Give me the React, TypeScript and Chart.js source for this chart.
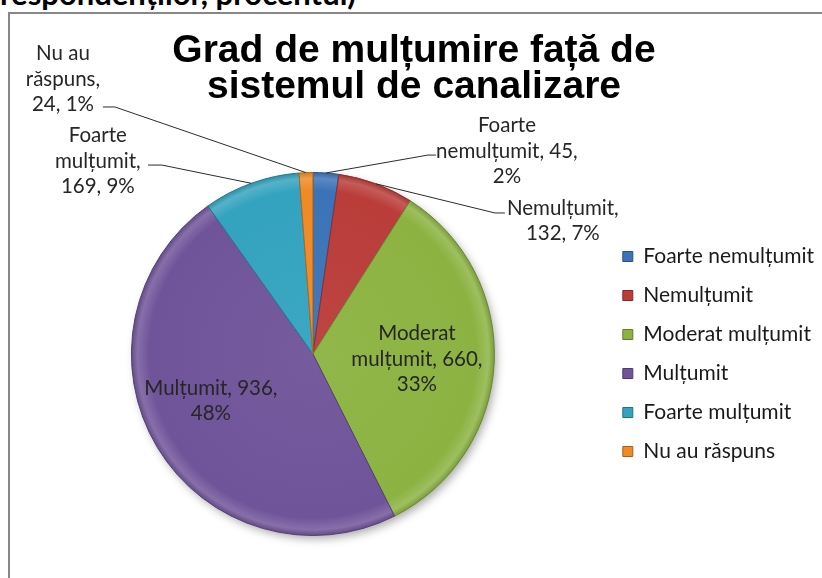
import React, { useEffect, useRef } from 'react';
import { Chart, registerables } from 'chart.js';

Chart.register(...registerables);

// ---- data ----
const CATEGORIES = [
  'Foarte nemulțumit',
  'Nemulțumit',
  'Moderat mulțumit',
  'Mulțumit',
  'Foarte mulțumit',
  'Nu au răspuns',
];
const VALUES = [45, 132, 660, 936, 169, 24];
const COLORS = ['#3c73b8', '#ba3d3a', '#8cb342', '#70549a', '#34a3bf', '#ef8a26'];
const TITLE_LINES = ['Grad de mulțumire față de', 'sistemul de canalizare'];
const CAPTION = 'respondenților, procentul)';
// words per line for each data label ("Categorie, valoare, procent%")
const LABEL_WORDS_PER_LINE = [[1, 2, 1], [1, 2], [1, 2, 1], [2, 1], [1, 1, 2], [2, 1, 2]];

// ---- label layout (in units of the pie radius, relative to pie centre) ----
// tx,ty: centre of text block; leader: elbow (ex,ey) then horizontal to hx
const LABEL_LAYOUT = [
  { tx: 1.069, ty: -1.118, leader: true, ex: 0.634, ey: -1.096, hx: 0.678 },
  { tx: 1.377, ty: -0.733, leader: true, ex: 1.003, ey: -0.777, hx: 1.058 },
  { tx: 0.573, ty: 0.028, leader: false, ex: 0, ey: 0, hx: 0 },
  { tx: -0.562, ty: 0.259, leader: false, ex: 0, ey: 0, hx: 0 },
  { tx: -1.185, ty: -1.063, leader: true, ex: -0.832, ey: -1.041, hx: -0.909 },
  { tx: -1.377, ty: -1.515, leader: true, ex: -1.091, ey: -1.361, hx: -1.157 },
];
const LABEL_FONT = '20.5px Lato, "Open Sans", sans-serif';
const LABEL_LINE_H = 25.5;

function roundedPercents(vals: number[]): number[] {
  const total = vals.reduce((a, b) => a + b, 0);
  const raw = vals.map((v) => (v * 100) / total);
  const fl = raw.map((r) => Math.floor(r));
  const rem = 100 - fl.reduce((a, b) => a + b, 0);
  const order = raw.map((r, i) => [r - fl[i], i]).sort((a, b) => b[0] - a[0]);
  for (let k = 0; k < rem; k++) fl[order[k][1]] += 1;
  return fl;
}

const PERCENTS = roundedPercents(VALUES);
const LABEL_LINES: string[][] = CATEGORIES.map((c, i) => {
  const words = `${c}, ${VALUES[i]}, ${PERCENTS[i]}%`.split(' ');
  const out: string[] = [];
  let p = 0;
  for (const n of LABEL_WORDS_PER_LINE[i]) {
    out.push(words.slice(p, p + n).join(' '));
    p += n;
  }
  return out;
});

function hexToRgb(h: string) {
  const n = parseInt(h.slice(1), 16);
  return [(n >> 16) & 255, (n >> 8) & 255, n & 255];
}
function mix(h: string, target: number, amt: number) {
  const [r, g, b] = hexToRgb(h);
  const f = (v: number) => Math.round(v + (target - v) * amt);
  return `rgb(${f(r)},${f(g)},${f(b)})`;
}
const lighten = (h: string, a: number) => mix(h, 255, a);
const darken = (h: string, a: number) => mix(h, 0, a);

function sliceFill(c: any) {
  const i = c.dataIndex;
  if (i === undefined) return COLORS[0];
  const base = COLORS[i];
  const chart = c.chart;
  const area = chart.chartArea;
  if (!area) return base;
  const cx = (area.left + area.right) / 2;
  const cy = (area.top + area.bottom) / 2;
  const r = Math.min(area.right - area.left, area.bottom - area.top) / 2;
  const g = chart.ctx.createRadialGradient(cx, cy, 0, cx, cy, r);
  g.addColorStop(0, lighten(base, 0.04));
  g.addColorStop(0.9, base);
  g.addColorStop(0.965, lighten(base, 0.16));
  g.addColorStop(1, darken(base, 0.14));
  return g;
}

const shadowPlugin = {
  id: 'pieShadow',
  beforeDatasetsDraw(chart: any) {
    const meta = chart.getDatasetMeta(0);
    const arc = meta.data[0];
    if (!arc) return;
    const { x, y, outerRadius } = arc.getProps(['x', 'y', 'outerRadius'], true);
    const ctx = chart.ctx;
    ctx.save();
    ctx.shadowColor = 'rgba(0,0,0,0.35)';
    ctx.shadowBlur = 10;
    ctx.shadowOffsetX = 3;
    ctx.shadowOffsetY = 4;
    ctx.beginPath();
    ctx.arc(x, y, outerRadius - 1, 0, Math.PI * 2);
    ctx.fillStyle = '#ffffff';
    ctx.fill();
    ctx.restore();
  },
};

const labelsPlugin = {
  id: 'pieLabels',
  afterDatasetsDraw(chart: any) {
    const meta = chart.getDatasetMeta(0);
    const ctx = chart.ctx;
    ctx.save();
    ctx.font = LABEL_FONT;
    ctx.fillStyle = '#262626';
    ctx.textAlign = 'center';
    ctx.textBaseline = 'middle';
    meta.data.forEach((arc: any, i: number) => {
      const { x, y, startAngle, endAngle, outerRadius } = arc.getProps(
        ['x', 'y', 'startAngle', 'endAngle', 'outerRadius'],
        true
      );
      const R = outerRadius;
      const mid = (startAngle + endAngle) / 2;
      const L = LABEL_LAYOUT[i];
      if (L.leader) {
        ctx.beginPath();
        ctx.moveTo(x + Math.cos(mid) * R, y + Math.sin(mid) * R);
        ctx.lineTo(x + L.ex * R, y + L.ey * R);
        ctx.lineTo(x + L.hx * R, y + L.ey * R);
        ctx.strokeStyle = '#2b2b2b';
        ctx.lineWidth = 1;
        ctx.stroke();
      }
      const lines = LABEL_LINES[i];
      const cx = x + L.tx * R;
      const cy = y + L.ty * R;
      lines.forEach((t, k) => {
        ctx.fillText(t, cx, cy + (k - (lines.length - 1) / 2) * LABEL_LINE_H);
      });
    });
    ctx.restore();
  },
};

export default function App() {
  const ref = useRef<HTMLCanvasElement | null>(null);

  useEffect(() => {
    if (!ref.current) return;
    const defaultGen = (Chart as any).overrides.doughnut.plugins.legend.labels.generateLabels;
    const chart = new Chart(ref.current, {
      type: 'pie',
      data: {
        labels: CATEGORIES,
        datasets: [
          {
            data: VALUES,
            backgroundColor: sliceFill as any,
            borderColor: COLORS.map((c) => darken(c, 0.25)),
            borderWidth: 1,
          },
        ],
      },
      options: {
        responsive: false,
        animation: false,
        events: [],
        layout: { padding: { left: 21, right: 26, top: 172, bottom: 42 } },
        plugins: {
          title: { display: false },
          legend: {
            position: 'right',
            fullSize: false,
            labels: {
              boxWidth: 10,
              boxHeight: 10,
              padding: 18,
              color: '#1a1a1a',
              font: { family: 'Lato, "Open Sans", sans-serif', size: 21 },
              generateLabels: (ch: any) =>
                defaultGen(ch).map((l: any, i: number) => ({
                  ...l,
                  fillStyle: COLORS[i],
                  strokeStyle: darken(COLORS[i], 0.3),
                  lineWidth: 1,
                })),
            },
          },
          tooltip: { enabled: false },
        },
      } as any,
      plugins: [shadowPlugin, labelsPlugin],
    });
    return () => chart.destroy();
  }, []);

  return (
    <div
      style={{
        position: 'absolute',
        left: 0,
        top: 0,
        width: 822,
        height: 578,
        overflow: 'hidden',
        background: '#ffffff',
      }}
    >
      <div
        style={{
          position: 'absolute',
          left: 0,
          top: -22,
          fontFamily: 'Lato, "Open Sans", sans-serif',
          fontWeight: 'bold',
          fontSize: 31,
          lineHeight: '31px',
          whiteSpace: 'nowrap',
          color: '#000',
        }}
      >
        {CAPTION}
      </div>
      <div
        style={{
          position: 'absolute',
          left: 8,
          top: 12,
          width: 900,
          height: 700,
          border: '2px solid #878787',
          boxSizing: 'border-box',
        }}
      />
      <canvas
        ref={ref}
        width={850}
        height={578}
        style={{ position: 'absolute', left: 0, top: 0, width: 850, height: 578 }}
      />
      <div
        style={{
          position: 'absolute',
          left: 0,
          top: 31,
          width: 828,
          textAlign: 'center',
          fontFamily: '"Liberation Sans", Arial, sans-serif',
          fontWeight: 'bold',
          fontSize: 39,
          lineHeight: '36px',
          color: '#000',
          whiteSpace: 'nowrap',
        }}
      >
        {TITLE_LINES.map((t) => (
          <div key={t}>{t}</div>
        ))}
      </div>
    </div>
  );
}
